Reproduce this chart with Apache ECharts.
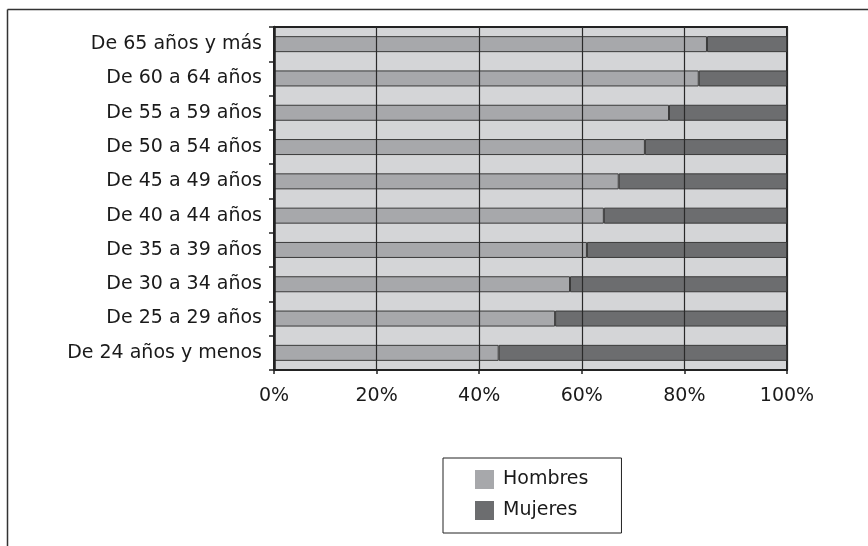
<!DOCTYPE html>
<html>
<head>
<meta charset="utf-8">
<script src="https://cdn.jsdelivr.net/npm/echarts@6/dist/echarts.min.js"></script>
<style>
html,body{margin:0;padding:0;background:#fff;}
#chart{width:868px;height:546px;}
</style>
</head>
<body>
<div id="chart"></div>
<script>
// Categories, top to bottom as shown
var categories = ['De 65 años y más','De 60 a 64 años','De 55 a 59 años','De 50 a 54 años','De 45 a 49 años','De 40 a 44 años','De 35 a 39 años','De 30 a 34 años','De 25 a 29 años','De 24 años y menos'];
// Share (%) of each group
var hombres = [84.4, 82.8, 77.0, 72.3, 67.2, 64.3, 61.0, 57.7, 54.8, 43.8];
var mujeres = [15.6, 17.2, 23.0, 27.7, 32.8, 35.7, 39.0, 42.3, 45.2, 56.2];
var seriesNames = ['Hombres','Mujeres'];
var xTicks = [0, 20, 40, 60, 80, 100];

var FONT = 'DejaVu Sans';
var chart = echarts.init(document.getElementById('chart'), null, {renderer:'canvas'});
chart.setOption({
  animation: false,
  backgroundColor: '#ffffff',
  textStyle: {fontFamily: FONT},
  graphic: [
    {type:'line', z:100, shape:{x1:7.5, y1:9.5, x2:868, y2:9.5}, style:{stroke:'#333', lineWidth:1.5}},
    {type:'line', z:100, shape:{x1:7.5, y1:9.5, x2:7.5, y2:546}, style:{stroke:'#333', lineWidth:1.5}}
  ],
  grid: {
    left: 274, right: 81, top: 27, bottom: 176,
    show: true, backgroundColor: '#d4d5d7', borderColor: '#222', borderWidth: 2
  },
  legend: {
    data: seriesNames,
    orient: 'vertical',
    left: 443, top: 458,
    itemWidth: 19, itemHeight: 19, itemGap: 12,
    icon: 'rect',
    padding: [12, 33, 13, 32],
    borderColor: '#222', borderWidth: 1,
    itemStyle: {borderWidth: 0},
    textStyle: {fontFamily: FONT, fontSize: 19, color: '#1a1a1a', padding: [0,0,0,4]}
  },
  xAxis: {
    type: 'value', min: xTicks[0], max: xTicks[xTicks.length-1], interval: 20,
    z: 10,
    axisLine: {show: true, lineStyle: {color: '#222', width: 2}},
    axisTick: {show: true, length: 4, lineStyle: {color: '#222', width: 1.5}},
    axisLabel: {formatter: '{value}%', fontFamily: FONT, fontSize: 19, color: '#1a1a1a', margin: 17},
    splitLine: {show: true, lineStyle: {color: '#2a2a2a', width: 1.2}}
  },
  yAxis: {
    type: 'category', data: categories, inverse: true,
    z: 10,
    axisLine: {show: true, lineStyle: {color: '#222', width: 2.5}},
    axisTick: {show: true, length: 5, lineStyle: {color: '#222', width: 1.5}},
    axisLabel: {fontFamily: FONT, fontSize: 19, color: '#1a1a1a', margin: 12}
  },
  series: [
    {name: seriesNames[0], type: 'bar', stack: 'total', data: hombres, barWidth: 16,
     itemStyle: {color: '#a7a8ab', borderColor: '#3a3a3a', borderWidth: 1}},
    {name: seriesNames[1], type: 'bar', stack: 'total', data: mujeres, barWidth: 16,
     itemStyle: {color: '#6c6d6f', borderColor: '#3a3a3a', borderWidth: 1}}
  ]
});
</script>
</body>
</html>
